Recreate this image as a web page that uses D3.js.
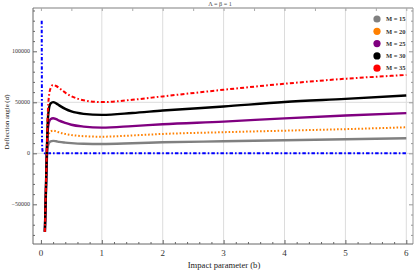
<!DOCTYPE html>
<html><head><meta charset="utf-8">
<script src="https://cdn.jsdelivr.net/npm/d3@7"></script>
<style>body{margin:0;background:#fff}svg{display:block}text{font-family:"Liberation Serif","Times New Roman",serif}</style>
</head><body><svg id="c" width="415" height="273"></svg>
<script>
const title = "\u039B = \u03B2 = 1";
const xLabel = "Impact parameter (b)";
const yLabel = "Deflection angle (\u03B1\u0302)";
const xTicks = [0,1,2,3,4,5,6];
const yTicks = [-50000,0,50000,100000];
const seriesNames = ["M = 15","M = 20","M = 25","M = 30","M = 35"];
const seriesColors = ["#808080","#ff8000","#800080","#000000","#ff0000"];
const bGrid = [0.065,0.08,0.095,0.11,0.13,0.16,0.2,0.25,0.3,0.4,0.5,0.7,1,1.5,2,3,4,5,6];
const m15 = [-77000,-46000,-12000,5000,10000,11800,12200,11800,11200,10500,10000,9400,9200,9900,10800,11800,12800,13800,14800];
const m20 = [-77000,-44000,-8000,12000,19000,21500,22200,21500,20500,19000,18000,16800,16300,17500,19000,20700,22200,23700,25500];
const m25 = [-77000,-42000,-5000,20000,30000,33500,34400,33500,32000,29800,28000,26200,25200,26700,28500,31100,34300,37000,39400];
const m30 = [-77000,-40000,-2000,28000,43000,49000,50200,49000,47000,43500,41000,38700,37700,39500,41900,45900,50300,53400,56700];
const m35 = [-77000,-38000,0,35000,55000,64000,67000,66000,64000,59500,56000,52000,50200,52500,55800,62300,68200,73100,76800];
const bBlue = [0.013,0.015,0.017,0.02,0.025,0.035,0.06,1,2,3,4,5,6];
const vBlue = [130000,80000,30000,8000,3000,1000,0,0,0,0,0,0,0];

const svg = d3.select("#c");
const L=33,R=413,T=8,B=244;
const x = d3.scaleLinear().domain([-0.13,6.11]).range([L,R]);
const y = d3.scaleLinear().domain([-88900,142450]).range([B,T]);

svg.append("defs").append("clipPath").attr("id","clip").append("rect")
  .attr("x",L).attr("y",T).attr("width",R-L).attr("height",B-T);

// grid
const g = svg.append("g");
g.selectAll(".vg").data([1,2,3,4,5,6]).join("line")
  .attr("x1",d=>x(d)).attr("x2",d=>x(d)).attr("y1",T).attr("y2",B)
  .attr("stroke","#dcdcdc").attr("stroke-width",1);
g.selectAll(".hg").data([0,50000]).join("line")
  .attr("x1",L).attr("x2",R).attr("y1",d=>y(d)).attr("y2",d=>y(d))
  .attr("stroke","#dcdcdc").attr("stroke-width",1);

// curves
const line = d3.line().x(d=>x(d[0])).y(d=>y(d[1])).curve(d3.curveMonotoneX);
const series = [m15,m20,m25,m30,m35];
const dashes = [null,"1.6,1.9",null,null,"4,2.2,1.6,2.2"];
const widths = [2.4,2,2.4,2.4,2];
const cg = svg.append("g").attr("clip-path","url(#clip)");
cg.append("path").datum(bBlue.map((b,i)=>[b,vBlue[i]]))
  .attr("d",line).attr("fill","none").attr("stroke","#0000ff")
  .attr("stroke-width",2).attr("stroke-dasharray","3.5,2,1.6,2");
series.forEach((s,k)=>{
  cg.append("path").datum(bGrid.map((b,i)=>[b,s[i]]))
    .attr("d",line).attr("fill","none").attr("stroke",seriesColors[k])
    .attr("stroke-width",widths[k]).attr("stroke-dasharray",dashes[k]);
});

// frame
const fr = svg.append("g");
fr.append("line").attr("x1",L).attr("x2",R).attr("y1",T).attr("y2",T).attr("stroke","#aaa").attr("stroke-width",1.5);
fr.append("line").attr("x1",R).attr("x2",R).attr("y1",T).attr("y2",B).attr("stroke","#999");
fr.append("line").attr("x1",L).attr("x2",L).attr("y1",T).attr("y2",B).attr("stroke","#666");
fr.append("line").attr("x1",L).attr("x2",R).attr("y1",B).attr("y2",B).attr("stroke","#666");

// axes via d3
const axB = d3.axisTop(x).tickValues(xTicks).tickSize(4).tickFormat("");
svg.append("g").attr("transform",`translate(0,${B})`).call(axB).call(a=>a.select(".domain").remove()).selectAll("line").attr("stroke","#666");
const xMinor = d3.range(0,6.01,0.2).filter(v=>Math.abs(v-Math.round(v))>1e-6);
svg.append("g").attr("transform",`translate(0,${B})`).call(d3.axisTop(x).tickValues(xMinor).tickSize(2).tickFormat("")).call(a=>a.select(".domain").remove()).selectAll("line").attr("stroke","#666");
svg.append("g").attr("transform",`translate(0,${T})`).call(d3.axisBottom(x).tickValues(d3.range(0,6.01,0.5)).tickSize(3).tickFormat("")).call(a=>a.select(".domain").remove()).selectAll("line").attr("stroke","#aaa");
const yMinor = d3.range(-80000,140001,10000).filter(v=>v%50000!==0);
[[L,d3.axisRight,"#666"],[R,d3.axisLeft,"#999"]].forEach(([px,fn,col])=>{
  svg.append("g").attr("transform",`translate(${px},0)`).call(fn(y).tickValues(yTicks).tickSize(4).tickFormat("")).call(a=>a.select(".domain").remove()).selectAll("line").attr("stroke",col);
  svg.append("g").attr("transform",`translate(${px},0)`).call(fn(y).tickValues(yMinor).tickSize(2).tickFormat("")).call(a=>a.select(".domain").remove()).selectAll("line").attr("stroke",col);
});

// tick labels
svg.append("g").selectAll("text").data(xTicks).join("text")
  .attr("x",d=>x(d)).attr("y",B+12).attr("text-anchor","middle")
  .attr("font-size",9).attr("fill","#333").text(d=>d);
svg.append("g").selectAll("text").data(yTicks).join("text")
  .attr("x",L-3).attr("y",d=>y(d)+2).attr("text-anchor","end")
  .attr("font-size",6).attr("fill","#333").text(d=>d===0?"0":(d<0?"\u2212"+Math.abs(d):d));

// labels
svg.append("text").attr("x",224).attr("y",268).attr("text-anchor","middle").attr("font-size",8.6).attr("fill","#222").text(xLabel);
svg.append("text").attr("transform","translate(9,122) rotate(-90)").attr("text-anchor","middle").attr("font-size",6.8).attr("fill","#222").text(yLabel);
svg.append("text").attr("x",220).attr("y",6).attr("text-anchor","middle").attr("font-size",6.2).attr("fill","#444").text(title);

// legend
const lg = svg.append("g");
seriesNames.forEach((n,i)=>{
  const cy = 19 + i*12.3;
  lg.append("circle").attr("cx",377).attr("cy",cy).attr("r",3.6).attr("fill",seriesColors[i]);
  lg.append("text").attr("x",386).attr("y",cy+2.2).attr("font-size",6.5).attr("font-weight","bold").attr("fill","#333").text(n);
});
</script></body></html>
